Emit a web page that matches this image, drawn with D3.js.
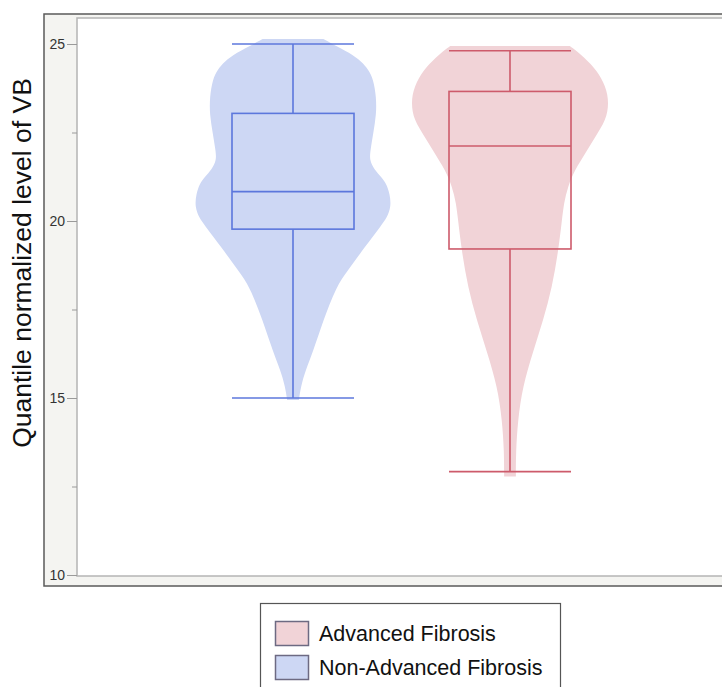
<!DOCTYPE html>
<html>
<head>
<meta charset="utf-8">
<script src="https://cdn.jsdelivr.net/npm/d3@7"></script>
<style>
  html, body { margin: 0; padding: 0; background: #fff; }
  svg { display: block; }
</style>
</head>
<body>
<svg id="chart" width="722" height="687"></svg>
<script>
// Groups, in plotting order (left to right)
const groups = ["Non-Advanced Fibrosis", "Advanced Fibrosis"];
// Legend order
const legendGroups = ["Advanced Fibrosis", "Non-Advanced Fibrosis"];

// Box-plot summaries: [min, Q1, median, Q3, max]
const boxNonAdvanced = [15.0, 19.77, 20.83, 23.04, 25.0];
const boxAdvanced    = [12.92, 19.21, 22.12, 23.66, 24.81];

// Violin density profiles: level of VB and relative density
const levelsNonAdvanced = [25.14, 25.0, 24.75, 24.5, 24.27, 24.0, 23.5, 23.0, 22.5, 22.0, 21.72, 21.45, 21.25, 21.07, 20.75, 20.4, 20.1, 19.84, 19.5, 19.18, 18.6, 18.14, 17.2, 16.27, 15.8, 15.32, 14.94];
const densityNonAdvanced = [0.31, 0.40, 0.58, 0.70, 0.77, 0.82, 0.85, 0.85, 0.82, 0.79, 0.78, 0.83, 0.90, 0.95, 0.99, 1.00, 0.96, 0.89, 0.80, 0.71, 0.56, 0.44, 0.31, 0.20, 0.13, 0.08, 0.06];

const levelsAdvanced = [24.94, 24.74, 24.5, 24.27, 23.8, 23.33, 22.85, 22.38, 21.92, 21.44, 20.97, 20.5, 20.03, 19.1, 18.14, 17.2, 16.27, 15.32, 14.38, 13.45, 12.78];
const densityAdvanced = [0.61, 0.71, 0.80, 0.88, 0.98, 1.01, 0.98, 0.87, 0.77, 0.66, 0.59, 0.55, 0.53, 0.49, 0.43, 0.34, 0.23, 0.13, 0.08, 0.06, 0.06];

// Y axis ticks
const majorTicks = [10, 15, 20, 25];
const minorTicks = [12.5, 17.5, 22.5];

const yTitle = "Quantile normalized level of VB";

const palette = {
  "Non-Advanced Fibrosis": { fill: "#cdd7f4", stroke: "#5c77dc" },
  "Advanced Fibrosis":     { fill: "#f1d3d7", stroke: "#cd5b6b" }
};

const series = {
  "Non-Advanced Fibrosis": { box: boxNonAdvanced, levels: levelsNonAdvanced, density: densityNonAdvanced },
  "Advanced Fibrosis":     { box: boxAdvanced,    levels: levelsAdvanced,    density: densityAdvanced }
};

const svg = d3.select("#chart");

// Frame geometry
const frame = { left: 44, top: 14, bottom: 586 };
const plot  = { left: 77, top: 18, bottom: 576, right: 760 };

// Outer panel (light grey) and white plot area
svg.append("rect")
  .attr("x", frame.left).attr("y", frame.top)
  .attr("width", 760 - frame.left).attr("height", frame.bottom - frame.top)
  .attr("fill", "#f4f4f1").attr("stroke", "#5a5a5a").attr("stroke-width", 1.5);

svg.append("rect")
  .attr("x", plot.left).attr("y", plot.top)
  .attr("width", plot.right - plot.left).attr("height", plot.bottom - plot.top)
  .attr("fill", "#ffffff").attr("stroke", "#b4b4b4").attr("stroke-width", 1.5);

const y = d3.scaleLinear().domain([10, 25]).range([575, 44]);
const x = d3.scalePoint().domain(groups).range([293, 510]);
const w = d3.scaleLinear().domain([0, 1]).range([0, 98]);
const boxHalf = 61;

// Y axis
const axis = d3.axisLeft(y).tickValues(majorTicks).tickSize(10).tickPadding(2).tickFormat(d3.format("d"));
const gAxis = svg.append("g").attr("transform", `translate(${plot.left},0)`).call(axis);
gAxis.select(".domain").remove();
gAxis.selectAll(".tick line").attr("stroke", "#9a9a9a").attr("stroke-width", 1);
gAxis.selectAll(".tick text")
  .attr("fill", "#333").attr("font-family", "Liberation Sans, Arial, sans-serif").attr("font-size", 14);

const minorAxis = d3.axisLeft(y).tickValues(minorTicks).tickSize(5).tickFormat("");
const gMinor = svg.append("g").attr("transform", `translate(${plot.left},0)`).call(minorAxis);
gMinor.select(".domain").remove();
gMinor.selectAll(".tick line").attr("stroke", "#9a9a9a");

// Y axis title
svg.append("text")
  .attr("transform", `translate(31,263) rotate(-90)`)
  .attr("text-anchor", "middle")
  .attr("font-family", "Liberation Sans, Arial, sans-serif")
  .attr("font-size", 26.5)
  .attr("fill", "#111")
  .text(yTitle);

// Violins and boxes
groups.forEach(g => {
  const s = series[g];
  const cx = x(g);
  const col = palette[g];
  const pts = s.levels.map((v, i) => ({ v, d: s.density[i] }));

  const area = d3.area()
    .y(p => y(p.v))
    .x0(p => cx - w(p.d))
    .x1(p => cx + w(p.d))
    .curve(d3.curveBasis);

  svg.append("path").datum(pts)
    .attr("d", area)
    .attr("fill", col.fill);

  const [mn, q1, md, q3, mx] = s.box;
  const gb = svg.append("g").attr("stroke", col.stroke).attr("stroke-width", 1.6).attr("fill", "none");

  // whiskers
  gb.append("line").attr("x1", cx).attr("x2", cx).attr("y1", y(mx)).attr("y2", y(q3));
  gb.append("line").attr("x1", cx).attr("x2", cx).attr("y1", y(q1)).attr("y2", y(mn));
  // caps
  [mn, mx].forEach(v => gb.append("line")
    .attr("x1", cx - boxHalf).attr("x2", cx + boxHalf)
    .attr("y1", y(v)).attr("y2", y(v)));
  // box
  gb.append("rect")
    .attr("x", cx - boxHalf).attr("y", y(q3))
    .attr("width", boxHalf * 2).attr("height", y(q1) - y(q3));
  // median
  gb.append("line")
    .attr("x1", cx - boxHalf).attr("x2", cx + boxHalf)
    .attr("y1", y(md)).attr("y2", y(md));
});

// Legend
const lg = svg.append("g");
lg.append("rect")
  .attr("x", 260.5).attr("y", 603.5).attr("width", 300).attr("height", 100)
  .attr("fill", "#fff").attr("stroke", "#555").attr("stroke-width", 1.2);

legendGroups.forEach((g, i) => {
  const yy = 621 + i * 34;
  lg.append("rect")
    .attr("x", 275.5).attr("y", yy + 0.5).attr("width", 33).attr("height", 24)
    .attr("fill", palette[g].fill).attr("stroke", "#6d6a82").attr("stroke-width", 1.5);
  lg.append("text")
    .attr("x", 319).attr("y", yy + 20)
    .attr("font-family", "Liberation Sans, Arial, sans-serif")
    .attr("font-size", 21.5)
    .attr("fill", "#111")
    .text(g);
});
</script>
</body>
</html>
